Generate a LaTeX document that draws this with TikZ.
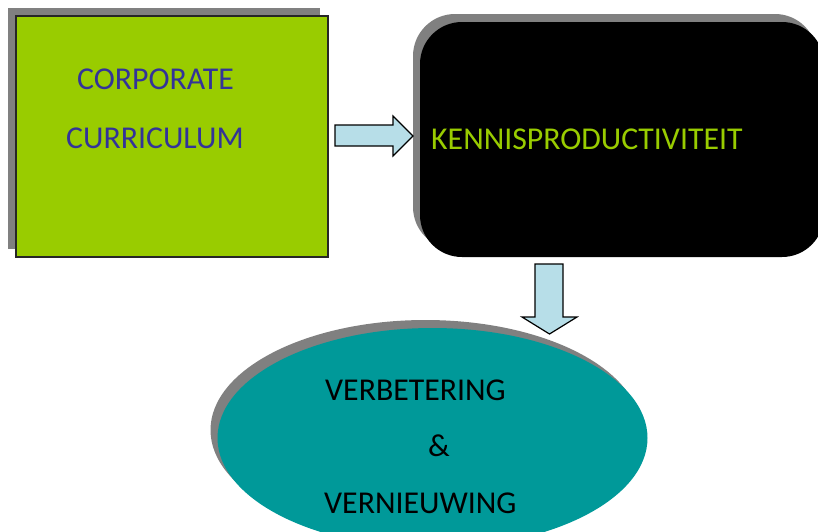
\documentclass[tikz,border=0pt]{standalone}
\usepackage{fontspec}
\setmainfont{Carlito}
\usetikzlibrary{shadows,shapes.geometric}
\definecolor{boxgreen}{RGB}{153,204,0}
\definecolor{txtblue}{RGB}{51,51,153}
\definecolor{shadowgray}{RGB}{128,128,128}
\definecolor{tealfill}{RGB}{0,153,153}
\definecolor{arrowblue}{RGB}{183,222,232}
\tikzset{
  lbl/.style={inner sep=0pt, anchor=base west, font=\fontsize{31.8}{37}\selectfont},
  grayshadow/.style={drop shadow={shadow xshift=-#1pt, shadow yshift=8pt, fill=shadowgray, opacity=1}},
  blockarrow/.style={draw=black, fill=arrowblue, line width=1.2pt, line join=miter},
}
\begin{document}
\begin{tikzpicture}[x=1pt,y=-1pt]
\useasboundingbox (0,0) rectangle (818,531);
\clip (0,0) rectangle (818,531);
% green box
\node[grayshadow=8, draw=black!85, line width=1.2pt, fill=boxgreen, minimum width=312pt, minimum height=241pt, inner sep=0pt] (cc) at (172,136.5) {};
% black rounded box
\node[grayshadow=7, fill=black, rounded corners=42pt, minimum width=404pt, minimum height=235pt, inner sep=0pt] (kp) at (622,139.5) {};
% ellipse
\node[grayshadow=7, fill=tealfill, ellipse, minimum width=430pt, minimum height=220pt, inner sep=0pt] (vv) at (432.5,438) {};
% texts
\node[lbl, text=txtblue] (t1) at (77,89) {CORPORATE};
\node[lbl, text=txtblue] (t2) at (66,148) {CURRICULUM};
\node[lbl, text=boxgreen] (t3) at (431,149) {KENNISPRODUCTIVITEIT};
\node[lbl] (t4) at (325,400) {VERBETERING};
\node[lbl] (t5) at (428,456) {\&};
\node[lbl] (t6) at (324,513) {VERNIEUWING};
% arrows
\draw[blockarrow] (335,125) -- (393,125) -- (393,116) -- (413,136) -- (393,156) -- (393,146) -- (335,146) -- cycle;
\draw[blockarrow] (535,264) -- (563,264) -- (563,317) -- (577,317) -- (549.5,334) -- (522,317) -- (535,317) -- cycle;
\end{tikzpicture}
\end{document}
